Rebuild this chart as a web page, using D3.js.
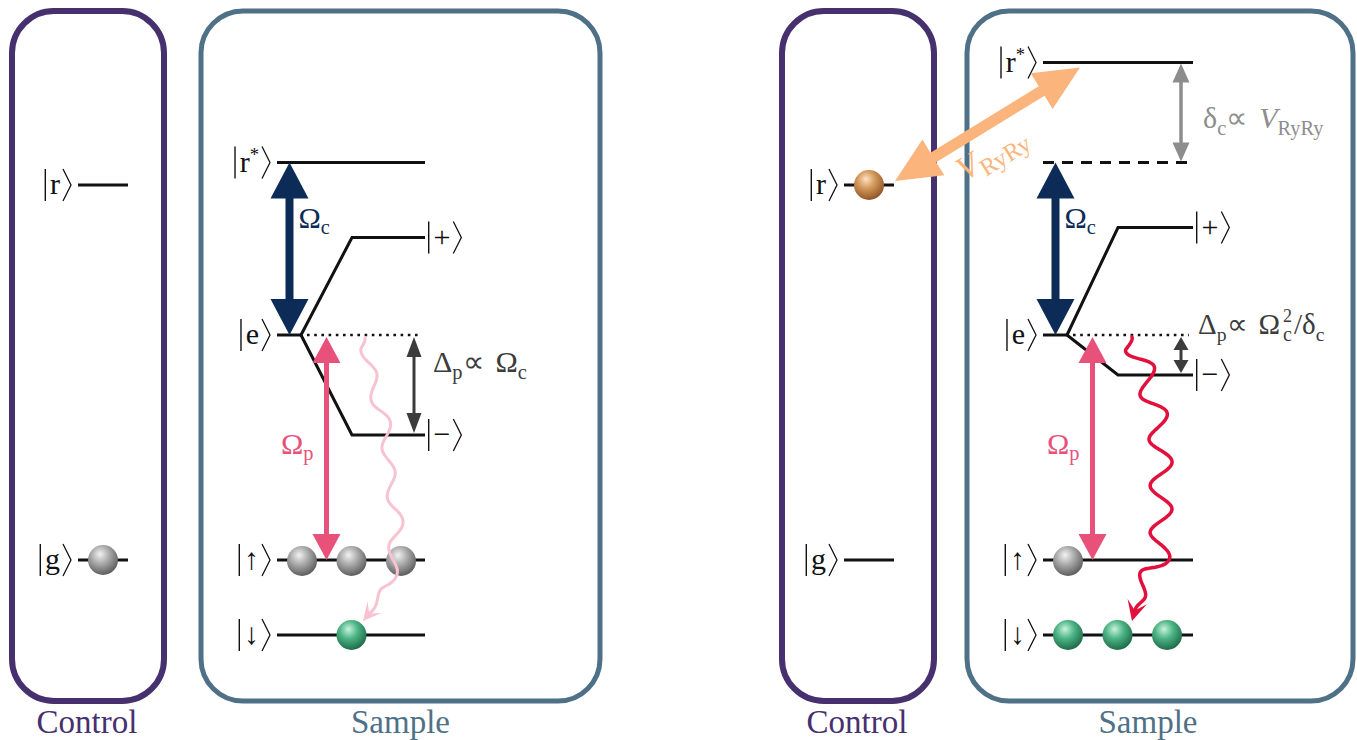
<!DOCTYPE html>
<html>
<head>
<meta charset="utf-8">
<script src="https://cdn.jsdelivr.net/npm/d3@7"></script>
</head>
<body style="margin:0">
<svg id="fig" width="1357" height="740" font-family="Liberation Serif"></svg>
<script>
// ---- Level scheme data (energies in arbitrary units) ----
const controlStates = ["r", "g"];
const controlEnergies = [18, 3];
const sampleStates = ["r*", "+", "e", "\u2212", "\u2191", "\u2193"];
const eitEnergies = [18.9, 15.9, 12, 8, 3, 0];          // non-interacting case
const blockadeEnergies = [22.9, 16.3, 12, 10.4, 3, 0];  // control excited to |r>
const blockadeShiftedRydberg = 18.9;                     // unshifted |r*> position
const controlAtomState = ["g", "r"];
const upAtomSlots = [[0, 1, 2], [0]];
const downAtomSlots = [[1], [0, 1, 2]];
const boxTitles = ["Control", "Sample"];

// ---- Styling ----
const SERIF = '"Liberation Serif"';
const C = {
  control: "#46306e",
  sample: "#4e7188",
  navy: "#0c2c57",
  pink: "#e8527a",
  palePink: "#f8c3d0",
  red: "#e2103c",
  orange: "#fbb57c",
  dark: "#3c3c3c",
  grey: "#8d8d8d",
  ink: "#111"
};

const svg = d3.select("#fig");
const y = d3.scaleLinear().domain([0, 24]).range([635, 35]);

// text widths come from a canvas so the svg is never laid out mid-draw
const measureCtx = document.createElement("canvas").getContext("2d");
function textWidth(str, size, italic) {
  measureCtx.font = `${italic ? "italic " : ""}${size}px ${SERIF}, serif`;
  return measureCtx.measureText(str).width;
}

function draw() {
  svg.selectAll("*").remove();
  svg.append("style").text('text, tspan { font-family: "Liberation Serif", serif !important; }');

  // ---- Gradients for the atoms ----
  const defs = svg.append("defs");
  function ballGradient(id, stops) {
    const g = defs.append("radialGradient").attr("id", id)
      .attr("cx", "42%").attr("cy", "35%").attr("r", "68%").attr("fx", "40%").attr("fy", "30%");
    stops.forEach(([o, c]) => g.append("stop").attr("offset", o).attr("stop-color", c));
  }
  ballGradient("ballGrey", [["0%", "#f2f2f2"], ["45%", "#aaaaaa"], ["100%", "#585858"]]);
  ballGradient("ballGreen", [["0%", "#c9f3dc"], ["45%", "#4cb485"], ["100%", "#1b6644"]]);
  ballGradient("ballBrown", [["0%", "#fde2c4"], ["42%", "#d59b5e"], ["100%", "#8a5222"]]);

  function atom(g, cx, cy, fill) {
    g.append("circle").attr("cx", cx).attr("cy", cy).attr("r", 15).attr("fill", `url(#${fill})`);
  }

  function serifText(x, yy, size, color) {
    return svg.append("text").attr("x", x).attr("y", yy)
      .attr("font-size", size)
      .attr("font-family", "Liberation Serif")
      .style("font-family", SERIF)
      .attr("fill", color);
  }

  function levelLine(g, x1, x2, yy, dash) {
    g.append("line").attr("x1", x1).attr("x2", x2).attr("y1", yy).attr("y2", yy)
      .attr("stroke", C.ink).attr("stroke-width", dash === "dot" ? 2.6 : 3)
      .attr("stroke-dasharray", dash === "dot" ? "2.6,4.6" : dash === "dash" ? "11,8" : null);
  }

  function ket(g, x, yy, parts, anchor) {
    const size = 30;
    const t = serifText(0, yy + 9, size, C.ink);
    let w = 0;
    parts.forEach(([s, kind]) => {
      const ts = t.append("tspan").text(s);
      if (kind === "sup") {
        ts.attr("font-size", size * 0.62).attr("dy", -11);
        w += textWidth(s, size * 0.62);
      } else {
        w += textWidth(s, size);
      }
    });
    const gapL = 4, gapR = 3, brW = 8, half = 16;
    const total = 1.4 + gapL + w + gapR + brW;
    const x0 = anchor === "end" ? x - total : x;
    t.attr("x", x0 + 1.4 + gapL);
    g.append("line").attr("x1", x0 + 0.7).attr("x2", x0 + 0.7)
      .attr("y1", yy - half).attr("y2", yy + half).attr("stroke", C.ink).attr("stroke-width", 1.4);
    const bx = x0 + total - brW;
    g.append("path").attr("d", `M${bx},${yy - half}L${bx + brW},${yy}L${bx},${yy + half}`)
      .attr("fill", "none").attr("stroke", C.ink).attr("stroke-width", 1.3);
  }

  function doubleArrow(g, x1, y1, x2, y2, sw, hl, hw, color) {
    const dx = x2 - x1, dy = y2 - y1, L = Math.hypot(dx, dy);
    const ux = dx / L, uy = dy / L, nx = -uy, ny = ux;
    const P = (s, o) => [x1 + ux * s + nx * o, y1 + uy * s + ny * o];
    const pts = [P(0, 0), P(hl, hw / 2), P(hl, sw / 2), P(L - hl, sw / 2), P(L - hl, hw / 2),
                 P(L, 0), P(L - hl, -hw / 2), P(L - hl, -sw / 2), P(hl, -sw / 2), P(hl, -hw / 2)];
    g.append("path").attr("d", "M" + pts.join("L") + "Z").attr("fill", color);
  }

  // wavy photon line along a smooth guide curve, ending in a barbed head
  function photon(g, base, amp, period, width, color, hl, hw) {
    const guide = g.append("path")
      .attr("d", d3.line().curve(d3.curveCatmullRom.alpha(0.5))(base))
      .attr("fill", "none").attr("stroke", "none");
    const node = guide.node();
    const L = node.getTotalLength();
    const end = L - hl * 0.55;
    const pts = [];
    for (let s = 0; s <= end; s += 1) {
      const a = node.getPointAtLength(Math.max(0, s - 1));
      const b = node.getPointAtLength(Math.min(L, s + 1));
      const p = node.getPointAtLength(s);
      let tx = b.x - a.x, ty = b.y - a.y;
      const n = Math.hypot(tx, ty); tx /= n; ty /= n;
      const taper = Math.min(1, s / 10) * Math.min(1, (end - s) / 28);
      const o = amp * Math.sin(2 * Math.PI * s / period) * taper;
      pts.push([p.x - ty * o, p.y + tx * o]);
    }
    const tip = node.getPointAtLength(L);
    const back = node.getPointAtLength(L - 10);
    guide.remove();
    g.append("path").attr("d", d3.line().curve(d3.curveBasis)(pts))
      .attr("fill", "none").attr("stroke", color).attr("stroke-width", width)
      .attr("stroke-linecap", "round");
    let ux = tip.x - back.x, uy = tip.y - back.y;
    const n = Math.hypot(ux, uy); ux /= n; uy /= n;
    const nx = -uy, ny = ux;
    const Q = (s, o) => [tip.x - ux * s + nx * o, tip.y - uy * s + ny * o];
    const head = [Q(0, 0), Q(hl, hw), Q(hl * 0.55, 0), Q(hl, -hw)];
    g.append("path").attr("d", "M" + head.join("L") + "Z").attr("fill", color);
  }

  // text with sub/superscript runs; returns its width as measured on canvas
  function mathText(x, yy, parts, color, size, anchor, rotate) {
    const t = serifText(x, yy, size, color).attr("text-anchor", anchor || "start");
    if (rotate) t.attr("transform", `rotate(${rotate},${x},${yy})`);
    let w = 0;
    parts.forEach(p => {
      const ts = t.append("tspan").text(p.t);
      const fs = size * (p.size || 1);
      if (p.size) ts.attr("font-size", fs);
      if (p.dy) ts.attr("dy", p.dy);
      if (p.dx) { ts.attr("dx", p.dx); w += p.dx; }
      if (p.italic) ts.attr("font-style", "italic");
      w += textWidth(p.t, fs, p.italic);
    });
    return w;
  }

  function roundedBox(g, x1, x2, color, sw) {
    g.append("rect").attr("x", x1).attr("y", 11).attr("width", x2 - x1).attr("height", 690)
      .attr("rx", 42).attr("ry", 42).attr("fill", "none")
      .attr("stroke", color).attr("stroke-width", sw);
  }

  // ---- Panels ----
  const panelLayout = [
    { ctrl: [12, 164], samp: [201, 600], ctrlLine: 78, L0: 277, L1: 425 },
    { ctrl: [782, 934], samp: [967, 1353], ctrlLine: 844, L0: 1043, L1: 1193 }
  ];

  panelLayout.forEach((lay, i) => {
    const g = svg.append("g");
    const E = i === 0 ? eitEnergies : blockadeEnergies;
    const lev = {};
    sampleStates.forEach((s, k) => lev[s] = y(E[k]));
    const ctrl = {};
    controlStates.forEach((s, k) => ctrl[s] = y(controlEnergies[k]));

    // boxes and titles
    roundedBox(g, lay.ctrl[0], lay.ctrl[1], C.control, 6);
    roundedBox(g, lay.samp[0], lay.samp[1], C.sample, 5);
    serifText((lay.ctrl[0] + lay.ctrl[1]) / 2 - 1, 733, 33, C.control)
      .attr("text-anchor", "middle").text(boxTitles[0]);
    serifText((lay.samp[0] + lay.samp[1]) / 2 - (i ? 12 : 0), 733, 33, C.sample)
      .attr("text-anchor", "middle").text(boxTitles[1]);

    // control atom levels
    const cl0 = lay.ctrlLine, cl1 = lay.ctrlLine + 50;
    controlStates.forEach(s => {
      levelLine(g, cl0, cl1, ctrl[s]);
      ket(g, cl0 - 7, ctrl[s], [[s]], "end");
    });
    atom(g, cl0 + 25, ctrl[controlAtomState[i]], i === 0 ? "ballGrey" : "ballBrown");

    // sample levels
    const L0 = lay.L0, L1 = lay.L1, split = L0 + 24, kink = L0 + 75;
    levelLine(g, L0, L1, lev["r*"]);
    ket(g, L0 - 7, lev["r*"], [["r"], ["*", "sup"]], "end");
    if (i === 1) levelLine(g, L0, L1, y(blockadeShiftedRydberg), "dash");

    levelLine(g, L0, split, lev.e);
    levelLine(g, split + 6, L1 - 4, lev.e, "dot");
    ket(g, L0 - 7, lev.e, [["e"]], "end");

    g.append("path").attr("d", d3.line()([[split, lev.e], [kink, lev["+"]], [L1, lev["+"]]]))
      .attr("fill", "none").attr("stroke", C.ink).attr("stroke-width", 3);
    g.append("path").attr("d", d3.line()([[split, lev.e], [kink, lev["\u2212"]], [L1, lev["\u2212"]]]))
      .attr("fill", "none").attr("stroke", C.ink).attr("stroke-width", 3);
    ket(g, L1 + 3, lev["+"], [["+"]], "start");
    ket(g, L1 + 3, lev["\u2212"], [["\u2212"]], "start");

    ["\u2191", "\u2193"].forEach(s => {
      levelLine(g, L0, L1, lev[s]);
      ket(g, L0 - 7, lev[s], [[s]], "end");
    });

    // coupling (control) field
    const xc = L0 + 12.5;
    const topC = i === 0 ? lev["r*"] : y(blockadeShiftedRydberg);
    doubleArrow(g, xc, topC, xc, lev.e, 8, 36, 38, C.navy);
    mathText(xc + 9, 228, [{ t: "\u03A9" }, { t: "c", size: 0.68, dy: 6 }], C.navy, 30);

    // probe field
    const xp = L0 + 49.5;
    doubleArrow(g, xp, lev.e + 2, xp, lev["\u2191"], 5, 26, 28, C.pink);
    mathText(xp - 13, 454, [{ t: "\u03A9" }, { t: "p", size: 0.68, dy: 6 }], C.pink, 30, "end");

    // detuning of the dressed state
    const xd = L0 + 137;
    if (i === 0) {
      doubleArrow(g, xd, lev.e + 2, xd, lev["\u2212"] - 2, 3, 20, 15, C.dark);
      mathText(L0 + 156, 372, [
        { t: "\u0394" }, { t: "p", size: 0.68, dy: 7 }, { t: "\u221D", dy: -7 },
        { t: "\u03A9", dx: 12 }, { t: "c", size: 0.68, dy: 7 }], C.dark, 30);
    } else {
      doubleArrow(g, xd + 1, lev.e + 2, xd + 1, lev["\u2212"] - 2, 3, 13, 15, C.dark);
      const lx = L1 + 5, ly = 334;
      const headW = mathText(lx, ly, [
        { t: "\u0394" }, { t: "p", size: 0.68, dy: 7 }, { t: "\u221D", dy: -7 },
        { t: "\u03A9", dx: 11 }], C.dark, 29);
      const sx = lx + headW + 3;
      serifText(sx, ly - 12, 18, C.dark).text("2");
      serifText(sx, ly + 7, 20, C.dark).text("c");
      const rx = sx + Math.max(textWidth("2", 18), textWidth("c", 20)) + 2;
      mathText(rx, ly, [{ t: "/\u03B4" }, { t: "c", size: 0.68, dy: 7 }], C.dark, 29);

      // Rydberg-Rydberg shift
      const xs = L1 - 12;
      doubleArrow(g, xs, lev["r*"] + 1, xs, y(blockadeShiftedRydberg) - 1, 3.5, 19, 17, C.grey);
      mathText(L1 + 10, 128, [
        { t: "\u03B4" }, { t: "c", size: 0.68, dy: 7 }, { t: "\u221D", dy: -7 },
        { t: "V", italic: true, dx: 12 }, { t: "RyRy", size: 0.68, dy: 7 }], C.grey, 30);
    }

    // sample atoms
    const slotX = k => L0 + 25 + k * 49.5;
    upAtomSlots[i].forEach(k => atom(g, slotX(k), lev["\u2191"] + 1, "ballGrey"));
    downAtomSlots[i].forEach(k => atom(g, slotX(k), lev["\u2193"], "ballGreen"));

    // spontaneous decay photon
    if (i === 0) {
      photon(g, [[L0 + 88, lev.e + 3], [L0 + 96, 385], [L0 + 109, 430], [L0 + 113, 480],
                 [L0 + 120, 520], [L0 + 115, 565], [L0 + 112, 585], [L0 + 86, 621]],
             6, 50, 3, C.palePink, 18, 9);
    } else {
      photon(g, [[L0 + 89, lev.e + 2], [L0 + 104, 380], [L0 + 116, 430], [L0 + 118, 500],
                 [L0 + 115, 560], [L0 + 97, 595], [L0 + 89, 621]],
             11, 47, 3.5, C.red, 20, 10);
    }

    // Rydberg-Rydberg interaction between control and sample
    if (i === 1) {
      const ax1 = cl1 + 1, ay1 = ctrl.r - 4;
      const ax2 = L0 + 37, ay2 = lev["r*"] + 5;
      doubleArrow(g, ax1, ay1, ax2, ay2, 11, 45, 42, C.orange);
      const ang = Math.atan2(ay2 - ay1, ax2 - ax1) * 180 / Math.PI;
      mathText(997, 162, [{ t: "V", italic: true }, { t: "RyRy", size: 0.72, dy: 7 }],
               C.orange, 34, "middle", ang);
    }
  });
}

draw();
// redraw once every face is available, so canvas widths match the drawn glyphs
if (document.fonts && document.fonts.ready) document.fonts.ready.then(draw);
</script>
</body>
</html>
